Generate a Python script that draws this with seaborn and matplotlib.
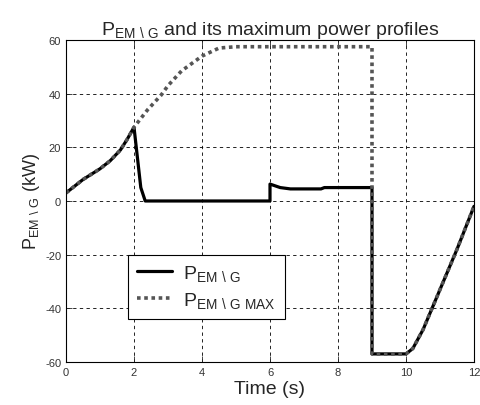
import pandas as pd
import seaborn as sns
import matplotlib
matplotlib.use("Agg")
import matplotlib.pyplot as plt

# Potencia del motor/generador (kW)
t_em = [0, 0.5, 1.0, 1.3, 1.6, 1.8, 2.0, 2.2, 2.33, 6.0, 6.0, 6.3, 6.6, 7.5, 7.6, 9.0, 9.0, 10.0, 10.2, 10.5, 11.0, 11.5, 12.0]
p_em = [3, 8, 12, 15, 19, 23, 27.5, 5, 0, 0, 6.3, 5, 4.5, 4.5, 5, 5, -57, -57, -55, -48, -33, -18, -2]

# Perfil de potencia maxima (kW)
t_max = [0, 0.5, 1.0, 1.3, 1.6, 1.8, 2.0, 2.4, 2.8, 3.0, 3.4, 4.0, 4.5, 5.0, 9.0, 9.0, 10.0, 10.2, 10.5, 11.0, 11.5, 12.0]
p_max = [3, 8, 12, 15, 19, 23, 27.5, 34, 39.5, 43, 48.5, 54, 57, 57.5, 57.5, -57, -57, -55, -48, -33, -18, -2]

xticks = [0, 2, 4, 6, 8, 10, 12]
yticks = [-60, -40, -20, 0, 20, 40, 60]

sub = r"$\mathregular{P_{EM\ \backslash\ G}}$"
sub_max = r"$\mathregular{P_{EM\ \backslash\ G\ MAX}}$"

sns.set_style("ticks")
plt.rcParams["font.family"] = ["Liberation Sans", "DejaVu Sans"]
plt.rcParams["mathtext.fontset"] = "custom"
plt.rcParams["mathtext.rm"] = "Liberation Sans"
plt.rcParams["axes.unicode_minus"] = False

fig = plt.figure(figsize=(4.8, 4.06), dpi=100)
ax = fig.add_axes([0.1375, 0.106, 0.85, 0.793])

df_em = pd.DataFrame({"t": t_em, "p": p_em})
df_max = pd.DataFrame({"t": t_max, "p": p_max})

sns.lineplot(data=df_em, x="t", y="p", ax=ax, color="black", linewidth=2.3,
             estimator=None, sort=False, label=sub)
sns.lineplot(data=df_max, x="t", y="p", ax=ax, color="#555555", linewidth=2.6,
             estimator=None, sort=False, label=sub_max, dashes=False)
ax.lines[1].set_dashes((1, 1))

ax.set_xlim(0, 12)
ax.set_ylim(-60, 60)
ax.set_xticks(xticks)
ax.set_yticks(yticks)
ax.tick_params(direction="in", labelsize=8, length=4, width=0.6, top=True, right=True,
               labelcolor="#333333")
for s in ax.spines.values():
    s.set_linewidth(0.8)
    s.set_color("black")
ax.grid(True, color="black", linestyle=(0, (4, 4)), linewidth=0.6)

ax.set_xlabel("Time (s)", fontsize=14, labelpad=2)
ax.set_ylabel(sub + " (kW)", fontsize=13, labelpad=2)
ax.set_title(sub + " and its maximum power profiles", fontsize=14, pad=4)

leg = ax.legend(loc="lower left", bbox_to_anchor=(0.152, 0.134), fontsize=14,
                frameon=True, fancybox=False, framealpha=1, edgecolor="black",
                handlelength=1.8, borderpad=0.45, labelspacing=0.35, handletextpad=0.6,
                borderaxespad=0)
leg.get_frame().set_linewidth(0.8)

fig.savefig("out.png", dpi=100)
